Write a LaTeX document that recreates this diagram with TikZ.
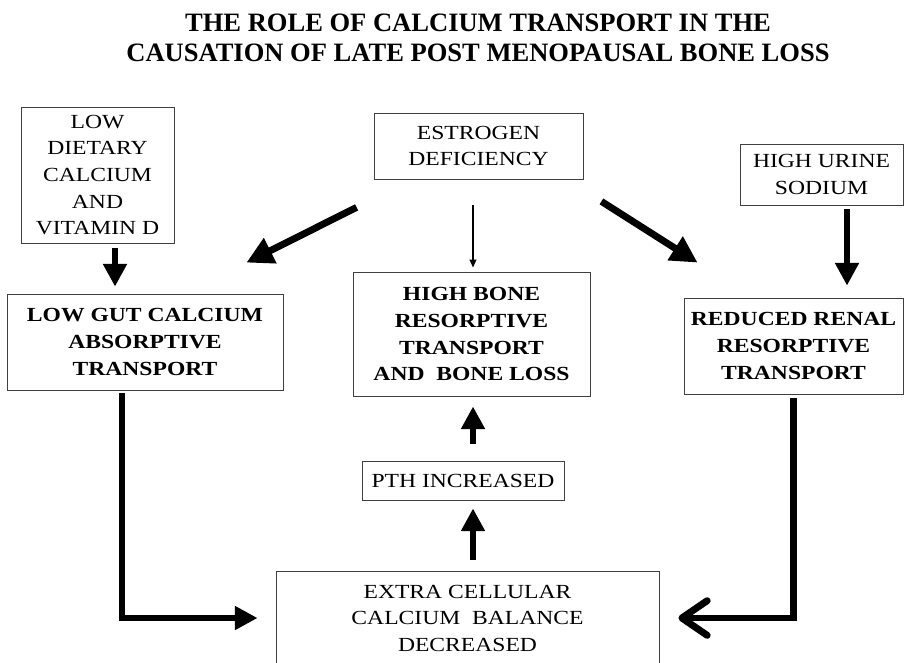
\documentclass[tikz,border=0pt]{standalone}
\usepackage{fontspec}
\setmainfont[FakeStretch=1.18]{Liberation Serif}
\newfontfamily\titlefont{Liberation Serif}
\usetikzlibrary{arrows.meta,calc}

\tikzset{
  box/.style={draw=black!75, line width=0.6pt, inner sep=0pt, align=center,
    font=\fontsize{15}{19.9}\selectfont},
  boldbox/.style={box, font=\fontsize{15}{20.2}\selectfont\bfseries},
  sz/.style 2 args={minimum width=#1*0.75pt, minimum height=#2*0.75pt},
  fatarrow/.style={line width=5.2pt, -{Triangle[length=17pt,width=17pt]}},
  slantarrow/.style={line width=5.2pt, -{Triangle[length=20pt,width=20pt]}},
  thinarrow/.style={line width=1.3pt, -{Triangle[length=6pt,width=5pt]}},
  openarrow/.style={line width=5.2pt, -{Straight Barb[length=19pt,width=26pt,round]}},
}

\begin{document}
\begin{tikzpicture}[x=0.75pt, y=-0.75pt]
    \useasboundingbox (0,0) rectangle (905,662);
    \clip (0,0) rectangle (905,662);

    % Title
    \node[font=\titlefont\fontsize{19.9}{22.5}\selectfont\bfseries, align=center] (title) at (478,38)
        {THE ROLE OF CALCIUM TRANSPORT IN THE\\CAUSATION OF LATE POST MENOPAUSAL BONE LOSS};

    % Causes on the top row
    \node[box, sz={153}{136}] (diet) at (97.5,175) {LOW\\DIETARY\\CALCIUM\\AND\\VITAMIN D};
    \node[box, sz={209}{66}] (estro) at (478.5,146) {ESTROGEN\\DEFICIENCY};
    \node[box, sz={163}{61}] (urine) at (821.5,174.5) {HIGH URINE\\SODIUM};

    % Transport defects
    \node[boldbox, sz={276}{96}] (gut) at (145,342) {LOW GUT CALCIUM\\ABSORPTIVE\\TRANSPORT};
    \node[boldbox, sz={237}{124}] (bone) at (471.5,334) {HIGH BONE\\RESORPTIVE\\TRANSPORT\\AND\ \ BONE LOSS};
    \node[boldbox, sz={219}{96}] (renal) at (793.5,346) {REDUCED RENAL\\RESORPTIVE\\TRANSPORT};

    % Feedback loop at the bottom
    \node[box, sz={202}{39}] (pth) at (463,480.5) {PTH INCREASED};
    \node[box, sz={383}{94}] (extra) at (467.5,618) {EXTRA CELLULAR\\CALCIUM\ \ BALANCE\\DECREASED};

    % Arrows from the causes
    \draw[fatarrow] ($(diet.south)+(17.5,5)$) -- ($(gut.north)+(-30,-7)$);
    \draw[slantarrow] ($(estro.south west)+(-17,28)$) -- ($(gut.north east)+(-37,-31)$);
    \draw[thinarrow] ($(estro.south)+(-5.5,26)$) -- ($(bone.north)+(1.5,-4)$);
    \draw[slantarrow] ($(estro.south east)+(18,22)$) -- ($(renal.north west)+(14,-35)$);
    \draw[fatarrow] ($(urine.south)+(25.5,4)$) -- ($(renal.north)+(53.5,-12)$);

    % Into the calcium balance and back up
    \draw[fatarrow] ($(gut.south)+(-23,3)$) |- ($(extra.west)+(-18,0)$);
    \draw[openarrow] ($(renal.south)+(0,4)$) |- ($(extra.east)+(19,0)$);
    \draw[fatarrow] ($(extra.north)+(5.5,-11)$) -- ($(pth.south)+(10,8)$);
    \draw[fatarrow] ($(pth.north)+(10,-17)$) -- ($(bone.south)+(1.5,10)$);
\end{tikzpicture}
\end{document}
